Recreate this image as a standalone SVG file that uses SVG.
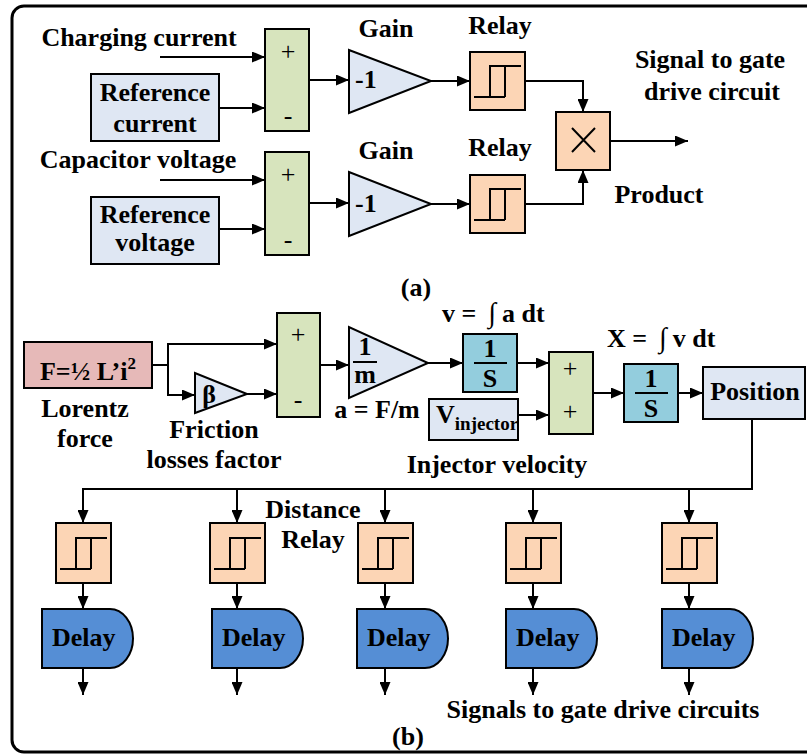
<svg xmlns="http://www.w3.org/2000/svg" xmlns:xlink="http://www.w3.org/1999/xlink" width="807" height="754" viewBox="0 0 807 754">
  <style>
    text { font-family: "Liberation Serif", "DejaVu Serif", serif; font-weight: bold; font-size: 26px; fill: #000; }
    .mid { text-anchor: middle; }
    .sym { font-weight: normal; }
    .blk { stroke: #000; stroke-width: 2; }
    .ref { fill: #dfe7f3; }
    .sum { fill: #d7e4bd; }
    .relay { fill: #fcd5b5; }
    .integ { fill: #93cddd; }
    .force { fill: #e6b9b8; }
    .delay { fill: #558ed5; }
    .wire { fill: none; stroke: #000; stroke-width: 2; }
    .arr { marker-end: url(#head); }
  </style>
  <defs>
    <marker id="head" markerUnits="userSpaceOnUse" markerWidth="13" markerHeight="11" refX="13" refY="5.5" orient="auto">
      <path d="M0,0 L13,5.5 L0,11 Z" fill="#000"/>
    </marker>
    <!-- hysteresis relay glyph, drawn for a 55x58 box at the origin -->
    <g id="relayIcon">
      <path d="M4,45 H35 M20,45 V14 H51 M35,14 V45" fill="none" stroke="#000" stroke-width="2"/>
    </g>
  </defs>

  <!-- outer frame -->
  <rect x="12" y="6" width="820" height="746" rx="12" ry="12" fill="none" stroke="#000" stroke-width="3"/>

  <!-- ===== (a) gate signal logic ===== -->
  <g id="lbl-charging"><text class="mid" x="139" y="46">Charging current</text></g>
  <g id="ref-current">
    <rect class="blk ref" x="91" y="74" width="128" height="67"/>
    <text class="mid" x="155" y="101">Reference</text>
    <text class="mid" x="155" y="132">current</text>
  </g>
  <g id="sum-a1">
    <rect class="blk sum" x="265" y="29" width="44" height="102"/>
    <text class="mid sym" x="288" y="60">+</text>
    <text class="mid sym" x="288" y="124">-</text>
  </g>
  <g id="gain-a1">
    <text class="mid" x="386" y="37">Gain</text>
    <polygon class="blk ref" points="349,50 349,113 431,81"/>
    <text x="355" y="88">-1</text>
  </g>
  <g id="relay-a1">
    <text class="mid" x="500" y="34">Relay</text>
    <rect class="blk relay" x="470" y="52" width="55" height="58"/>
    <use xlink:href="#relayIcon" x="470" y="52"/>
  </g>

  <g id="lbl-capacitor"><text class="mid" x="138" y="168">Capacitor voltage</text></g>
  <g id="ref-voltage">
    <rect class="blk ref" x="91" y="197" width="128" height="67"/>
    <text class="mid" x="155" y="223">Reference</text>
    <text class="mid" x="155" y="251">voltage</text>
  </g>
  <g id="sum-a2">
    <rect class="blk sum" x="265" y="152" width="44" height="103"/>
    <text class="mid sym" x="288" y="183">+</text>
    <text class="mid sym" x="288" y="248">-</text>
  </g>
  <g id="gain-a2">
    <text class="mid" x="386" y="159">Gain</text>
    <polygon class="blk ref" points="349,172 349,236 431,204"/>
    <text x="355" y="212">-1</text>
  </g>
  <g id="relay-a2">
    <text class="mid" x="500" y="156">Relay</text>
    <rect class="blk relay" x="470" y="175" width="55" height="58"/>
    <use xlink:href="#relayIcon" x="470" y="175"/>
  </g>

  <g id="product">
    <rect class="blk relay" x="556" y="112" width="54" height="58"/>
    <path d="M572,128 L595,152 M595,128 L572,152" stroke="#000" stroke-width="2" fill="none"/>
    <text class="mid" x="659" y="203">Product</text>
  </g>
  <g id="lbl-gate-signal">
    <text class="mid" x="710" y="68">Signal to gate</text>
    <text class="mid" x="712" y="100">drive circuit</text>
  </g>
  <g id="caption-a"><text class="mid" x="416" y="296">(a)</text></g>

  <!-- ===== (b) injector motion model ===== -->
  <g id="lorentz">
    <rect class="blk force" x="24" y="342" width="128" height="46"/>
    <text class="mid" x="88" y="380">F=½ L’i<tspan font-size="17" dy="-11">2</tspan></text>
    <text class="mid" x="85" y="417">Lorentz</text>
    <text class="mid" x="85" y="447">force</text>
  </g>
  <g id="friction">
    <polygon class="blk ref" points="195,373 195,413 247,394"/>
    <text class="mid" x="209" y="403">β</text>
    <text class="mid" x="214" y="438">Friction</text>
    <text class="mid" x="214" y="468">losses factor</text>
  </g>
  <g id="sum-b1">
    <rect class="blk sum" x="277" y="313" width="43" height="104"/>
    <text class="mid sym" x="298" y="343">+</text>
    <text class="mid sym" x="298" y="408">-</text>
  </g>
  <g id="mass-gain">
    <polygon class="blk ref" points="349,327 349,398 428,363"/>
    <text class="mid" x="365" y="355" font-size="25">1</text>
    <path d="M353,362 H377" stroke="#000" stroke-width="2"/>
    <text class="mid" x="365" y="383" font-size="25">m</text>
    <text class="mid" x="377" y="418">a = F/m</text>
  </g>
  <g id="integ-v">
    <text x="442" y="322">v =<tspan dx="12" font-weight="normal" font-size="28">∫</tspan><tspan dx="6">a dt</tspan></text>
    <rect class="blk integ" x="463" y="334" width="54" height="58"/>
    <text class="mid" x="490" y="357">1</text>
    <path d="M474,363 H507" stroke="#000" stroke-width="2"/>
    <text class="mid" x="490" y="387">S</text>
  </g>
  <g id="v-injector">
    <rect class="blk ref" x="429" y="399" width="89" height="41"/>
    <text x="436" y="423">V<tspan font-size="19" dy="7">injector</tspan></text>
    <text class="mid" x="497" y="473">Injector velocity</text>
  </g>
  <g id="sum-b2">
    <rect class="blk sum" x="549" y="352" width="44" height="82"/>
    <text class="mid sym" x="570" y="377" font-size="17">+</text>
    <text class="mid sym" x="570" y="420" font-size="17">+</text>
  </g>
  <g id="integ-x">
    <text x="607" y="347">X =<tspan dx="12" font-weight="normal" font-size="28">∫</tspan><tspan dx="6">v dt</tspan></text>
    <rect class="blk integ" x="624" y="364" width="54" height="58"/>
    <text class="mid" x="651" y="387">1</text>
    <path d="M635,393 H668" stroke="#000" stroke-width="2"/>
    <text class="mid" x="651" y="417">S</text>
  </g>
  <g id="position">
    <rect class="blk ref" x="703" y="367" width="102" height="52"/>
    <text class="mid" x="755" y="400">Position</text>
  </g>

  <g id="lbl-distance-relay">
    <text class="mid" x="313" y="518">Distance</text>
    <text class="mid" x="313" y="548">Relay</text>
  </g>

  <g id="relay-b1"><rect class="blk relay" x="56" y="523" width="55" height="60"/><use xlink:href="#relayIcon" x="56" y="524"/></g>
  <g id="relay-b2"><rect class="blk relay" x="210" y="523" width="55" height="60"/><use xlink:href="#relayIcon" x="210" y="524"/></g>
  <g id="relay-b3"><rect class="blk relay" x="358" y="523" width="55" height="60"/><use xlink:href="#relayIcon" x="358" y="524"/></g>
  <g id="relay-b4"><rect class="blk relay" x="506" y="523" width="55" height="60"/><use xlink:href="#relayIcon" x="506" y="524"/></g>
  <g id="relay-b5"><rect class="blk relay" x="662" y="523" width="55" height="60"/><use xlink:href="#relayIcon" x="662" y="524"/></g>

  <g id="delay-1"><path class="blk delay" d="M42,609 H110 A23,29.5 0 0 1 110,668 H42 Z"/><text x="52" y="646">Delay</text></g>
  <g id="delay-2"><path class="blk delay" d="M212,609 H280 A23,29.5 0 0 1 280,668 H212 Z"/><text x="222" y="646">Delay</text></g>
  <g id="delay-3"><path class="blk delay" d="M357,609 H425 A23,29.5 0 0 1 425,668 H357 Z"/><text x="367" y="646">Delay</text></g>
  <g id="delay-4"><path class="blk delay" d="M506,609 H574 A23,29.5 0 0 1 574,668 H506 Z"/><text x="516" y="646">Delay</text></g>
  <g id="delay-5"><path class="blk delay" d="M662,609 H730 A23,29.5 0 0 1 730,668 H662 Z"/><text x="672" y="646">Delay</text></g>

  <g id="lbl-gate-signals"><text class="mid" x="603" y="718">Signals to gate drive circuits</text></g>
  <g id="caption-b"><text class="mid" x="408" y="745">(b)</text></g>

  <!-- connectors -->
  <g id="connectors">
    <path class="wire arr" d="M160,57 H265"/>
    <path class="wire arr" d="M219,108 H265"/>
    <path class="wire arr" d="M309,80 H349"/>
    <path class="wire arr" d="M431,81 H470"/>
    <path class="wire arr" d="M525,81 H583 V112"/>
    <path class="wire arr" d="M610,141 H688"/>
    <path class="wire arr" d="M160,180 H265"/>
    <path class="wire arr" d="M219,229 H265"/>
    <path class="wire arr" d="M309,203 H349"/>
    <path class="wire arr" d="M431,204 H470"/>
    <path class="wire arr" d="M525,204 H583 V170"/>

    <path class="wire arr" d="M152,365 H168 V344 H277"/>
    <path class="wire arr" d="M168,365 V395 H195"/>
    <path class="wire arr" d="M247,394 H277"/>
    <path class="wire arr" d="M320,365 H349"/>
    <path class="wire arr" d="M428,363 H463"/>
    <path class="wire arr" d="M517,363 H549"/>
    <path class="wire arr" d="M518,415 H549"/>
    <path class="wire arr" d="M593,393 H624"/>
    <path class="wire arr" d="M678,393 H703"/>

    <path class="wire arr" d="M752,419 V489 H83 V523"/>
    <path class="wire arr" d="M237,489 V523"/>
    <path class="wire arr" d="M385,489 V523"/>
    <path class="wire arr" d="M533,489 V523"/>
    <path class="wire arr" d="M689,489 V523"/>

    <path class="wire arr" d="M83,583 V609"/>
    <path class="wire arr" d="M237,583 V609"/>
    <path class="wire arr" d="M385,583 V609"/>
    <path class="wire arr" d="M533,583 V609"/>
    <path class="wire arr" d="M689,583 V609"/>

    <path class="wire arr" d="M83,668 V695"/>
    <path class="wire arr" d="M237,668 V695"/>
    <path class="wire arr" d="M385,668 V695"/>
    <path class="wire arr" d="M533,668 V695"/>
    <path class="wire arr" d="M689,668 V695"/>
  </g>
</svg>
